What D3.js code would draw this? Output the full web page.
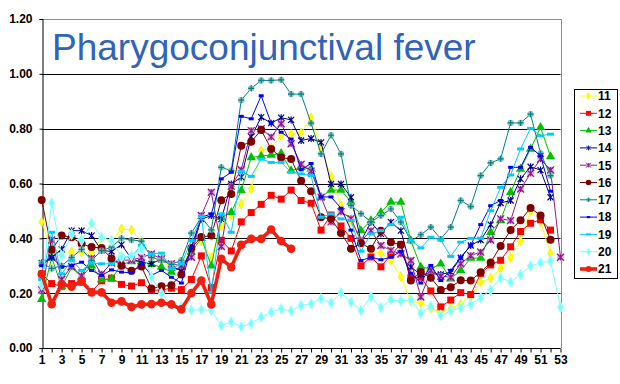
<!DOCTYPE html>
<html><head><meta charset="utf-8">
<script src="https://cdn.jsdelivr.net/npm/d3@7"></script>
<style>body{margin:0;background:#fff}svg{display:block}</style>
</head><body>
<script>
const weeks = [1,2,3,4,5,6,7,8,9,10,11,12,13,14,15,16,17,18,19,20,21,22,23,24,25,26,27,28,29,30,31,32,33,34,35,36,37,38,39,40,41,42,43,44,45,46,47,48,49,50,51,52,53];
const xTickLabels = [1,3,5,7,9,11,13,15,17,19,21,23,25,27,29,31,33,35,37,39,41,43,45,47,49,51,53];
const yTicks = [0,0.2,0.4,0.6,0.8,1.0,1.2];
const seriesNames = ["11","12","13","14","15","16","17","18","19","20","21"];

const s11 = [0.46,0.36,0.35,0.35,0.35,0.35,0.40,0.39,0.435,0.43,0.39,0.33,0.32,0.29,0.29,0.37,0.39,0.33,0.445,0.485,0.525,0.58,0.72,0.73,0.775,0.78,0.785,0.84,0.73,0.625,0.52,0.46,0.39,0.355,0.345,0.32,0.26,0.17,0.165,0.145,0.13,0.145,0.16,0.19,0.24,0.255,0.29,0.33,0.39,0.50,0.46,0.345,null];
const s12 = [0.27,0.235,0.225,0.235,0.24,0.205,0.245,0.255,0.232,0.226,0.238,0.21,0.212,0.218,0.213,0.25,0.336,0.22,0.393,0.354,0.46,0.494,0.524,0.557,0.543,0.576,0.538,0.528,0.43,0.485,0.445,0.40,0.30,0.332,0.296,0.34,0.378,0.256,0.258,0.208,0.15,0.175,0.202,0.195,0.272,0.303,0.32,0.369,0.425,0.455,0.468,0.43,null];
const s13 = [0.178,0.33,0.225,0.293,0.26,0.30,0.25,0.252,0.305,0.315,0.315,0.305,0.295,0.277,0.295,0.35,0.40,0.30,0.477,0.495,0.574,0.695,0.70,0.704,0.71,0.647,0.659,0.653,0.55,0.576,0.576,0.532,0.428,0.465,0.495,0.532,0.532,0.392,0.295,0.289,0.307,0.252,0.283,0.328,0.328,0.422,0.465,0.568,0.653,0.726,0.805,0.698,null];
const s14 = [0.31,0.33,0.36,0.428,0.428,0.41,0.356,0.352,0.377,0.325,0.313,0.307,0.325,0.30,0.28,0.362,0.47,0.483,0.47,0.598,0.623,0.77,0.842,0.82,0.84,0.832,0.757,0.764,0.75,0.598,0.598,0.55,0.39,0.459,0.416,0.459,0.428,0.295,0.268,0.271,0.268,0.277,0.329,0.374,0.394,0.45,0.529,0.538,0.617,0.661,0.649,0.55,null];
const s15 = [0.212,0.394,0.25,0.297,0.263,0.327,0.27,0.31,0.32,0.321,0.33,0.343,0.325,0.307,0.30,0.331,0.483,0.568,0.37,0.59,0.65,0.793,0.80,0.77,0.818,0.745,0.67,0.645,0.55,0.46,0.497,0.472,0.39,0.428,0.374,0.356,0.343,0.319,0.186,0.283,0.262,0.258,0.307,0.337,0.35,0.394,0.471,0.465,0.58,0.637,0.689,0.649,0.331];
const s16 = [0.54,0.358,0.41,0.404,0.38,0.368,0.365,0.326,0.30,0.282,0.297,0.217,0.225,0.229,0.268,0.365,0.405,0.41,0.539,0.562,0.738,0.752,0.795,0.726,0.695,0.689,0.61,0.572,0.477,0.471,0.419,0.362,0.382,0.362,0.428,0.386,0.377,0.246,0.277,0.256,0.212,0.222,0.247,0.246,0.276,0.312,0.372,0.43,0.466,0.511,0.483,0.395,null];
const s17 = [0.31,0.29,0.30,0.33,0.36,0.32,0.355,0.368,0.40,0.394,0.39,0.33,0.32,0.305,0.32,0.419,0.477,0.431,0.659,0.647,0.904,0.947,0.976,0.976,0.978,0.926,0.926,0.82,0.708,0.776,0.708,0.52,0.49,0.46,0.483,0.507,0.459,0.39,0.413,0.441,0.398,0.441,0.538,0.516,0.629,0.675,0.69,0.821,0.821,0.853,0.71,0.629,null];
const s18 = [0.30,0.331,0.295,0.301,0.313,0.283,0.265,0.285,0.277,0.274,0.309,0.265,0.283,0.258,0.237,0.368,0.477,0.489,0.617,0.641,0.845,0.836,0.92,0.82,0.787,0.762,0.65,0.673,0.551,0.551,0.51,0.43,0.319,0.331,0.322,0.331,0.353,0.273,0.237,0.301,0.246,0.283,0.331,0.374,0.45,0.519,0.538,0.659,0.659,0.732,0.701,0.572,null];
const s19 = [0.25,0.422,0.27,0.32,0.283,0.31,0.307,0.307,0.331,0.334,0.374,0.343,0.346,0.289,0.307,0.392,0.479,0.203,0.489,0.422,0.644,0.626,0.689,0.677,0.677,0.641,0.635,0.629,0.477,0.489,0.471,0.465,0.353,0.416,0.428,0.45,0.477,0.392,0.365,0.404,0.394,0.334,0.386,0.40,0.40,0.501,0.586,0.631,0.726,0.801,0.774,0.78,null];
const s20 = [0.23,0.529,0.337,0.414,0.393,0.455,0.404,0.392,0.332,0.337,0.36,0.258,0.199,0.156,0.15,0.138,0.14,0.137,0.082,0.095,0.077,0.089,0.113,0.131,0.143,0.135,0.155,0.161,0.18,0.164,0.201,0.167,0.137,0.186,0.147,0.176,0.171,0.176,0.127,0.152,0.119,0.135,0.147,0.159,0.183,0.212,0.256,0.24,0.268,0.299,0.311,0.317,0.149];
const s21 = [0.27,0.16,0.233,0.224,0.244,0.203,0.203,0.165,0.17,0.15,0.159,0.16,0.165,0.159,0.141,0.2,0.246,0.159,0.325,0.295,0.376,0.398,0.398,0.432,0.39,0.362];

const seriesValues = [s11,s12,s13,s14,s15,s16,s17,s18,s19,s20,s21];
const colors = ["#FFFF00","#FF0000","#00C000","#000090","#8B1A8B","#800000","#008080","#0000FF","#00CCFF","#70FFFF","#F02010"];
const widths = [1,1,1,1,1,1,1,1,1,1,3.6];
const markers = ["diamond","square","triangle","xbar","star","circle","plus","smallrect","dash","pcircle","bigcircle"];

const W = 620, H = 384;
const svg = d3.select("body").append("svg").attr("width", W).attr("height", H);
const x = d3.scaleLinear().domain([1,53]).range([41.7,560.5]);
const y = d3.scaleLinear().domain([0,1.2]).range([348,19]);
const font = "'Liberation Sans', Arial, sans-serif";

svg.append("g").selectAll("line").data(yTicks.filter(v => v > 0 && v < 1.2)).join("line")
  .attr("x1", x(1)).attr("x2", x(53)).attr("y1", d => Math.round(y(d)) + 0.5).attr("y2", d => Math.round(y(d)) + 0.5)
  .attr("stroke", "#000").attr("stroke-width", 1);
svg.append("line").attr("x1", x(1)).attr("x2", x(53)+0.5).attr("y1", Math.round(y(1.2))+0.5).attr("y2", Math.round(y(1.2))+0.5).attr("stroke", "#8c8c8c");
svg.append("line").attr("x1", Math.round(x(53))+0.5).attr("x2", Math.round(x(53))+0.5).attr("y1", y(1.2)).attr("y2", y(0)).attr("stroke", "#8c8c8c");

svg.append("text").attr("x", 52).attr("y", 60).attr("font-family", font).attr("font-size", 37)
  .attr("fill", "#3063BA").text("Pharygoconjunctival fever");

const yAxis = d3.axisLeft(y).tickValues(yTicks).tickFormat(d3.format(".2f")).tickSize(3).tickPadding(7);
const gy = svg.append("g").attr("transform", `translate(${Math.round(x(1))+0.5},0)`).call(yAxis);
gy.selectAll("text").attr("font-family", font).attr("font-size", 12).attr("font-weight", "bold").attr("fill", "#000");
gy.selectAll("line, path").attr("stroke", "#000");

const xAxis = d3.axisBottom(x).tickValues(weeks).tickSize(4).tickPadding(3)
  .tickFormat(d => xTickLabels.includes(d) ? d : "");
const gx = svg.append("g").attr("transform", `translate(0,${Math.round(y(0))+0.5})`).call(xAxis);
gx.selectAll("text").attr("font-family", font).attr("font-size", 12).attr("font-weight", "bold").attr("fill", "#000");
gx.selectAll("line, path").attr("stroke", "#000");
gx.select("path").attr("d", `M${x(1)},0H${x(53)}`);

function drawMarker(g, type, color, cx, cy, k) {
  k = k || 1;
  const t = `translate(${cx},${cy}) scale(${k})`;
  switch (type) {
    case "diamond": g.append("path").attr("transform", t).attr("d", d3.symbol(d3.symbolDiamond, 28)()).attr("fill", color).attr("stroke", "#E8E000").attr("stroke-width", 0.5); break;
    case "square": g.append("path").attr("transform", t).attr("d", "M-3.5,-3.5h7v7h-7z").attr("fill", color); break;
    case "triangle": g.append("path").attr("transform", t).attr("d", d3.symbol(d3.symbolTriangle, 38)()).attr("fill", color); break;
    case "xbar": g.append("path").attr("transform", t).attr("d", "M-3,-3L3,3M-3,3L3,-3M0,-3.5V3.5").attr("stroke", color).attr("stroke-width", 1.2).attr("fill", "none"); break;
    case "star":
      g.append("circle").attr("transform", t).attr("r", 3.5).attr("fill", "#D8A0D8").attr("opacity", 0.8);
      g.append("path").attr("transform", t).attr("d", "M-3.5,-3.5L3.5,3.5M-3.5,3.5L3.5,-3.5M0,-3V3").attr("stroke", color).attr("stroke-width", 1.3).attr("fill", "none"); break;
    case "circle": g.append("circle").attr("transform", t).attr("r", 4).attr("fill", color); break;
    case "plus":
      g.append("circle").attr("transform", t).attr("r", 3.2).attr("fill", "#7FB8B8").attr("opacity", 0.85);
      g.append("path").attr("transform", t).attr("d", "M-3,0H3M0,-3V3").attr("stroke", color).attr("stroke-width", 1.2); break;
    case "smallrect": g.append("path").attr("transform", t).attr("d", "M-2.5,-1.5h5v3h-5z").attr("fill", color); break;
    case "dash": g.append("path").attr("transform", t).attr("d", "M-3.5,-1.5h7v3h-7z").attr("fill", color); break;
    case "pcircle": g.append("path").attr("transform", t).attr("d", d3.symbol(d3.symbolDiamond, 28)()).attr("fill", color).attr("stroke", "#9FFFFF").attr("stroke-width", 1.2); break;
    case "bigcircle": g.append("circle").attr("transform", t).attr("r", 4.3).attr("fill", color); break;
  }
}

const line = d3.line().defined(d => d[1] != null).x(d => x(d[0])).y(d => y(d[1]));
seriesValues.forEach((vals, i) => {
  const pts = vals.map((v, j) => [weeks[j], v]);
  const g = svg.append("g");
  g.append("path").datum(pts).attr("d", line).attr("fill", "none")
    .attr("stroke", colors[i]).attr("stroke-width", widths[i]).attr("stroke-linejoin", "round");
  pts.filter(p => p[1] != null).forEach(p => drawMarker(g, markers[i], colors[i], x(p[0]), y(p[1]), 1));
});

const lg = svg.append("g");
lg.append("rect").attr("x", 574.5).attr("y", 89.5).attr("width", 43).attr("height", 189)
  .attr("fill", "#fff").attr("stroke", "#000").attr("stroke-width", 1);
seriesNames.forEach((name, i) => {
  const ly = 96 + i * 17.3;
  lg.append("line").attr("x1", 580).attr("x2", 597).attr("y1", ly).attr("y2", ly)
    .attr("stroke", colors[i]).attr("stroke-width", widths[i]);
  drawMarker(lg, markers[i], colors[i], 588.5, ly, 0.7);
  lg.append("text").attr("x", 598).attr("y", ly).attr("dy", "0.36em").attr("font-family", font)
    .attr("font-size", 12).attr("font-weight", "bold").attr("fill", "#000").text(name);
});
</script>
</body></html>
